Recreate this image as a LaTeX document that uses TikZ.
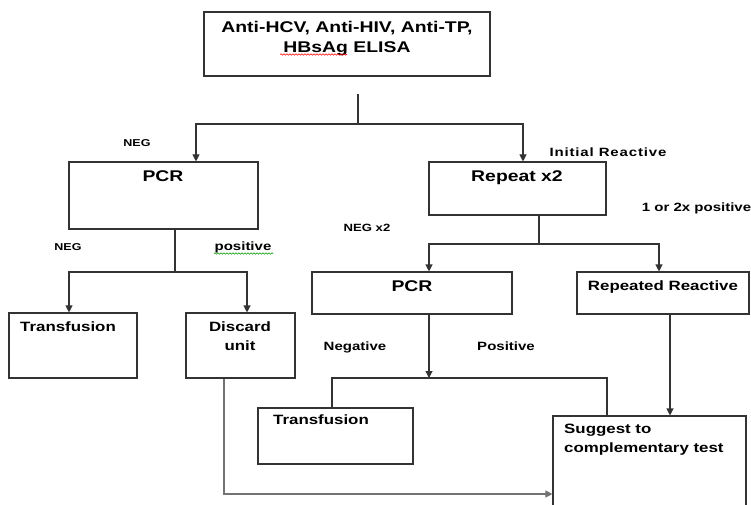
\documentclass[tikz,border=0pt]{standalone}
\usepackage{fontspec}
\setmainfont{Liberation Sans}[FakeStretch=1.25]
\usetikzlibrary{arrows.meta,decorations.pathmorphing}
\definecolor{linec}{gray}{0.2}
\definecolor{greyline}{gray}{0.45}
\begin{document}
\begin{tikzpicture}[x=1pt,y=-1pt,
  box/.style={draw=linec, line width=1.1pt, inner sep=0, fill=none},
  txt/.style={inner sep=0, anchor=base, text=black},
  big/.style={font=\bfseries\fontsize{15.5}{20}\selectfont},
  med/.style={font=\bfseries\fontsize{13.5}{19}\selectfont},
  sml/.style={font=\bfseries\fontsize{12}{14}\selectfont},
  tiny/.style={font=\bfseries\fontsize{10}{12}\selectfont},
  conn/.style={draw=linec, line width=1.1pt},
  arr/.style={conn, -{Triangle[width=7pt,length=7pt]}},
  squig/.style={line width=0.6pt, decorate, decoration={snake, amplitude=0.7pt, segment length=3pt}}
]
\useasboundingbox (0,0) rectangle (751,505);

% boxes
\node[box, minimum width=286pt, minimum height=64pt] (top) at (347,44) {};
\node[box, minimum width=189pt, minimum height=67pt] (pcr1) at (163.5,195.5) {};
\node[box, minimum width=177pt, minimum height=53pt] (rep) at (517.5,188.5) {};
\node[box, minimum width=128pt, minimum height=65pt] (tr1) at (73,345.5) {};
\node[box, minimum width=109pt, minimum height=65pt] (disc) at (240.5,345.5) {};
\node[box, minimum width=200pt, minimum height=42pt] (pcr2) at (412,293) {};
\node[box, minimum width=172pt, minimum height=42pt] (rr) at (663,293) {};
\node[box, minimum width=155pt, minimum height=56pt] (tr2) at (335.5,436) {};
\node[box, minimum width=193pt, minimum height=100pt] (sug) at (649.5,466) {};

% box texts
\node[txt, big, align=center] (toptxt) at (347,52.5) {Anti-HCV, Anti-HIV, Anti-TP,\\HBsAg ELISA};
\node[txt, big] (pcr1txt) at (163,181.4) {PCR};
\node[txt, big] (reptxt) at (517,181.5) {Repeat x2};
\node[txt, med] (tr1txt) at (68,331.8) {Transfusion};
\node[txt, med, align=center] (disctxt) at (240,350.8) {Discard\\unit};
\node[txt, big] (pcr2txt) at (412,291.4) {PCR};
\node[txt, med] (rrtxt) at (663,290.8) {Repeated Reactive};
\node[txt, med] (tr2txt) at (321,424.8) {Transfusion};
\node[txt, med, align=left, anchor=base west] (sugtxt) at (564,452.8) {Suggest to\\complementary test};

% labels
\node[txt, tiny] (l1) at (137,146.4) {NEG};
\node[txt, tiny] (l2) at (68,250.4) {NEG};
\node[txt, sml] (l3) at (243,250) {positive};
\node[txt, font=\bfseries\fontsize{12}{14}\selectfont\addfontfeature{LetterSpace=7}] (l4) at (608,156.5) {Initial Reactive};
\node[txt, sml, anchor=base west] (l5) at (641.7,211) {1 or 2x positive};
\node[txt, font=\bfseries\fontsize{10.5}{12}\selectfont] (l6) at (367,231.8) {NEG x2};
\node[txt, sml] (l7) at (355,350.5) {Negative};
\node[txt, sml] (l8) at (506,350.5) {Positive};

% spell-check squiggles
\draw[squig, red] (280,54.5) -- (347,54.5);
\draw[squig, green!60!black] (214,253.5) -- (273,253.5);

% connectors
\coordinate (topstem) at (358,94);
\coordinate (s1) at (358,124);
\draw[conn] (topstem) -- (s1);
\draw[arr] (s1) -| ([xshift=32.5pt]pcr1.north);
\draw[arr] (s1) -| ([xshift=5.5pt]rep.north);

\coordinate (s2) at (175,272);
\draw[conn] ([xshift=11.5pt]pcr1.south) -- (s2);
\draw[arr] (s2) -| ([xshift=-4pt]tr1.north);
\draw[arr] (s2) -| ([xshift=6.5pt]disc.north);

\coordinate (s3) at (539,244);
\draw[conn] ([xshift=21.5pt]rep.south) -- (s3);
\draw[arr] (s3) -| ([xshift=17pt]pcr2.north);
\draw[arr] (s3) -| ([xshift=-4pt]rr.north);

\coordinate (s4) at (429,378);
\draw[arr] ([xshift=17pt]pcr2.south) -- (s4);
\draw[conn] ([xshift=-3.5pt]tr2.north) |- (s4) -| ([xshift=-42.5pt]sug.north);

\draw[arr] ([xshift=7pt]rr.south) -- ([xshift=20.5pt]sug.north);

\draw[arr, draw=greyline] ([xshift=-16.5pt]disc.south) |- ([yshift=-28pt]sug.west);
\end{tikzpicture}
\end{document}
